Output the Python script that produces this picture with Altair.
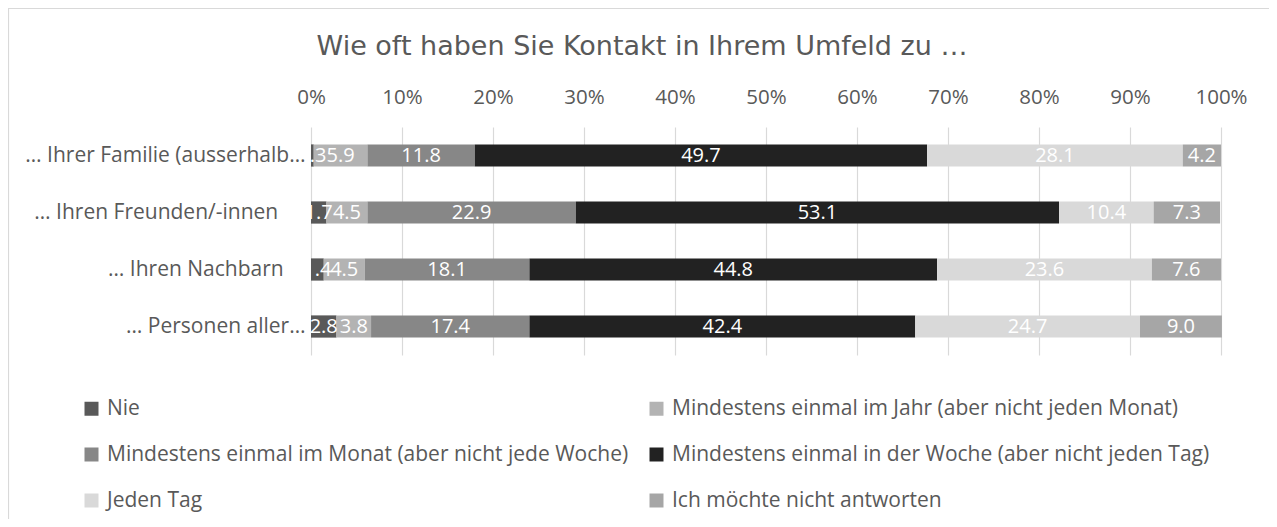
import altair as alt
import pandas as pd

NB = "\u00a0"
ZW = "\u200b"
categories = [
    "… Ihrer Familie (ausserhalb…",
    "… Ihren Freunden/-innen" + NB * 5 + ZW,
    "… Ihren Nachbarn" + NB * 4 + ZW,
    "… Personen aller…",
]
responses = [
    "Nie",
    "Mindestens einmal im Jahr (aber nicht jeden Monat)",
    "Mindestens einmal im Monat (aber nicht jede Woche)",
    "Mindestens einmal in der Woche (aber nicht jeden Tag)",
    "Jeden Tag",
    "Ich möchte nicht antworten",
]
nie = [0.3, 1.7, 1.4, 2.8]
jahr = [5.9, 4.5, 4.5, 3.8]
monat = [11.8, 22.9, 18.1, 17.4]
woche = [49.7, 53.1, 44.8, 42.4]
tag = [28.1, 10.4, 23.6, 24.7]
keine = [4.2, 7.3, 7.6, 9.0]
series = [nie, jahr, monat, woche, tag, keine]
colors = ["#595959", "#b3b3b3", "#878787", "#222222", "#d9d9d9", "#a6a6a6"]
ticks = list(range(0, 101, 10))
title_text = "Wie oft haben Sie Kontakt in Ihrem Umfeld zu …"

rows = []
for ci, c in enumerate(categories):
    for ri, r in enumerate(responses):
        rows.append({"cat": c, "resp": r, "idx": ri, "value": series[ri][ci]})
df = pd.DataFrame(rows)

FONT = "Open Sans"
GREY = "#595959"

base = alt.Chart(df).transform_stack(
    stack="value", groupby=["cat"], as_=["x0", "x1"], sort=[alt.SortField("idx")]
).transform_calculate(mid="(datum.x0 + datum.x1) / 2")

yenc = alt.Y(
    "cat:N",
    sort=categories,
    title=None,
    scale=alt.Scale(paddingInner=0.61, paddingOuter=0.305),
    axis=alt.Axis(
        domain=False, ticks=False, grid=False, labelFont=FONT, labelFontSize=21,
        labelColor=GREY, labelPadding=6, labelLimit=400,
    ),
)

bars = base.mark_bar().encode(
    x=alt.X(
        "x0:Q",
        scale=alt.Scale(domain=[0, 100], nice=False),
        title=None,
        axis=alt.Axis(
            orient="top", values=ticks, labelExpr="datum.value + '%'",
            domain=False, ticks=False, grid=True, gridColor="#d9d9d9", gridWidth=1.2,
            labelFont=FONT, labelFontSize=20.5, labelColor=GREY, labelPadding=20,
            labelFlush=False, labelOverlap=False,
        ),
    ),
    x2="x1:Q",
    y=yenc,
    color=alt.Color(
        "resp:N",
        sort=responses,
        scale=alt.Scale(domain=responses, range=colors),
        legend=alt.Legend(
            title=None, orient="none", legendX=-230, legendY=271, columns=2,
            direction="horizontal",
            columnPadding=17, rowPadding=24, symbolType="square", symbolSize=196,
            symbolStrokeWidth=0, labelFont=FONT, labelFontSize=21, labelColor=GREY,
            labelOffset=5, padding=0, labelLimit=700,
        ),
    ),
    order=alt.Order("idx:Q"),
)

labels = base.mark_text(
    color="white", font=FONT, fontSize=20, baseline="middle", align="center", clip=True
).encode(
    x=alt.X("mid:Q"),
    y=alt.Y("cat:N", sort=categories),
    text=alt.Text("value:Q", format=".1f"),
)

frame = alt.Chart(pd.DataFrame({"k": [0]})).mark_rect(
    fill="transparent", stroke="#d9d9d9", strokeWidth=1.2
).encode(
    x=alt.value(-302.5), x2=alt.value(1100), y=alt.value(-118.5), y2=alt.value(600)
)

title = alt.Chart(pd.DataFrame({"t": [title_text]})).mark_text(
    font="DejaVu Sans", fontSize=27, color=GREY, align="center", baseline="alphabetic"
).encode(text="t:N", x=alt.value(331), y=alt.value(-72))

chart = alt.layer(frame, bars, labels, title).properties(
    width=910,
    height=228,
    padding={"left": 303, "top": 119, "right": 48, "bottom": 164},
    autosize=alt.AutoSizeParams(type="none"),
).configure_view(stroke=None)

chart.save("out.html", embed_options={"renderer": "svg", "actions": False})
